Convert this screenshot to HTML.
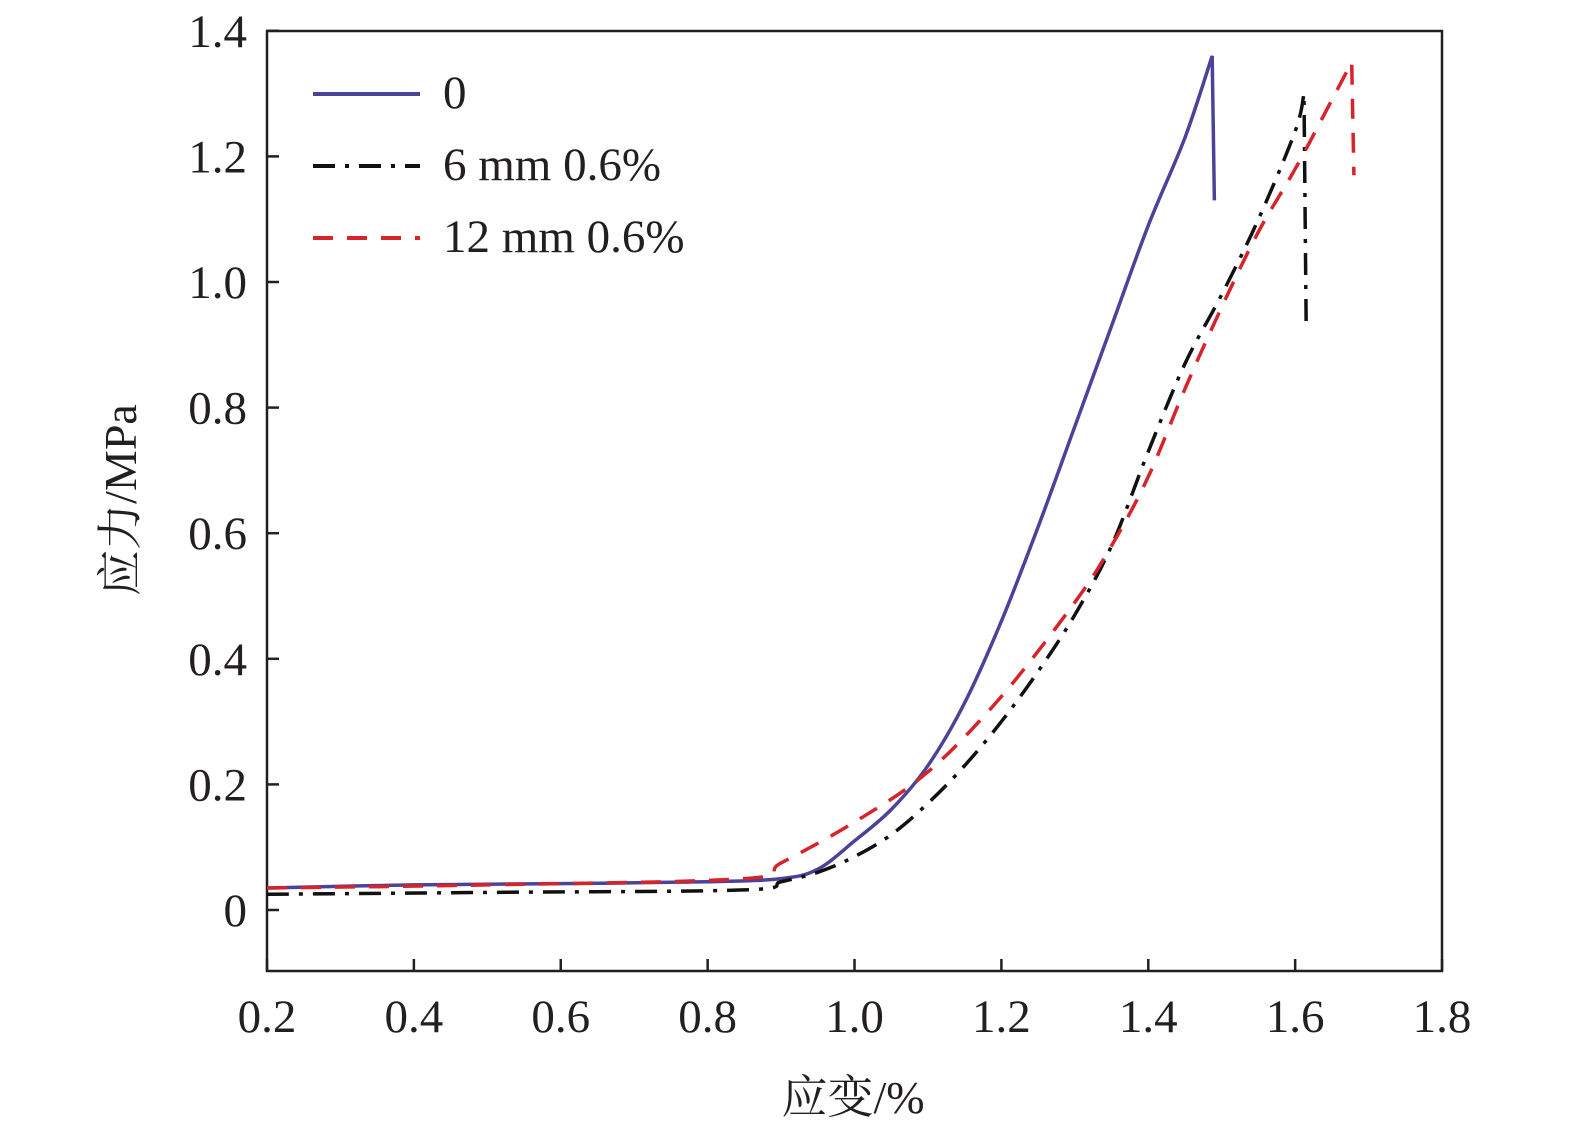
<!DOCTYPE html><html><head><meta charset="utf-8"><style>body{margin:0;background:#fff;overflow:hidden}svg{display:block}text{font-family:"Liberation Serif","Times New Roman","Noto Serif CJK SC",serif;fill:#231f20}</style></head><body>
<svg id="s" width="1575" height="1137" xmlns="http://www.w3.org/2000/svg">
<rect x="267" y="31" width="1175" height="940" fill="none" stroke="#231f20" stroke-width="2.5"/>
<g id="t" stroke="#231f20" stroke-width="2.5"></g>
<g id="l" font-size="47"></g>
<g id="c" fill="none" stroke-width="3.5"></g>
<text x="853" y="1113" font-size="46" text-anchor="middle">应变/%</text>
<text transform="translate(136,500) rotate(-90)" font-size="46" text-anchor="middle">应力/MPa</text>
<line x1="313" y1="94" x2="420" y2="94" stroke="#4b4398" stroke-width="4"/>
<line x1="313" y1="166" x2="420" y2="166" stroke="#111" stroke-width="4" stroke-dasharray="22,10,4,10"/>
<line x1="313" y1="238" x2="420" y2="238" stroke="#d7232a" stroke-width="4" stroke-dasharray="20,14"/>
<text x="443" y="108" font-size="47">0</text>
<text x="443" y="180" font-size="47">6 mm 0.6%</text>
<text x="443" y="252" font-size="47">12 mm 0.6%</text>
</svg>
<script>
const X=v=>267+(v-0.2)*734.4,Y=s=>910-s*628,ns="http://www.w3.org/2000/svg";
const t=document.getElementById('t'),l=document.getElementById('l'),c=document.getElementById('c');
function el(p,tag,a,txt){const e=document.createElementNS(ns,tag);for(const k in a)e.setAttribute(k,a[k]);if(txt!=null)e.textContent=txt;p.appendChild(e);}
for(let i=0;i<=8;i++){const v=0.2+i*0.2,x=X(v);el(t,'line',{x1:x,x2:x,y1:971,y2:959});el(l,'text',{x:x,y:1032,'text-anchor':'middle'},v.toFixed(1));}
for(let i=0;i<=7;i++){const s=i*0.2,y=Y(s);el(t,'line',{x1:267,x2:279,y1:y,y2:y});el(l,'text',{x:247,y:y+16,'text-anchor':'end'},i==0?'0':s.toFixed(1));}
function curve(pts,drop,col,dash){
 const P=pts.map(p=>[X(p[0]),Y(p[1])]);let d='M'+P[0];
 for(let i=0;i<P.length-1;i++){const p0=P[i-1]||P[i],p1=P[i],p2=P[i+1],p3=P[i+2]||p2;
  d+=' C'+(p1[0]+(p2[0]-p0[0])/6)+','+(p1[1]+(p2[1]-p0[1])/6)+' '+(p2[0]-(p3[0]-p1[0])/6)+','+(p2[1]-(p3[1]-p1[1])/6)+' '+p2;}
 d+=' L'+X(drop[0])+','+Y(drop[1]);
 el(c,'path',{d:d,stroke:col,'stroke-dasharray':dash||''});}
curve([[0.2,0.035],[0.4,0.04],[0.6,0.042],[0.8,0.045],[0.9,0.05],[0.95,0.065],[1.0,0.11],[1.05,0.16],[1.1,0.23],[1.15,0.33],[1.2,0.46],[1.25,0.61],[1.3,0.77],[1.35,0.93],[1.4,1.09],[1.45,1.23],[1.487,1.36]],[1.49,1.13],'#4b4398');
curve([[0.2,0.025],[0.5,0.028],[0.85,0.032],[0.9,0.045],[0.95,0.06],[1.0,0.085],[1.05,0.12],[1.1,0.17],[1.15,0.23],[1.2,0.3],[1.25,0.38],[1.3,0.47],[1.35,0.58],[1.4,0.73],[1.45,0.87],[1.5,0.98],[1.55,1.1],[1.6,1.24],[1.612,1.3]],[1.615,0.93],'#111','22,10,4,10');
curve([[0.2,0.035],[0.5,0.04],[0.85,0.05],[0.9,0.075],[1.0,0.14],[1.1,0.22],[1.2,0.34],[1.3,0.49],[1.35,0.58],[1.4,0.69],[1.45,0.83],[1.5,0.96],[1.55,1.08],[1.6,1.18],[1.65,1.29],[1.677,1.35]],[1.68,1.17],'#d7232a','20,14');
</script></body></html>
